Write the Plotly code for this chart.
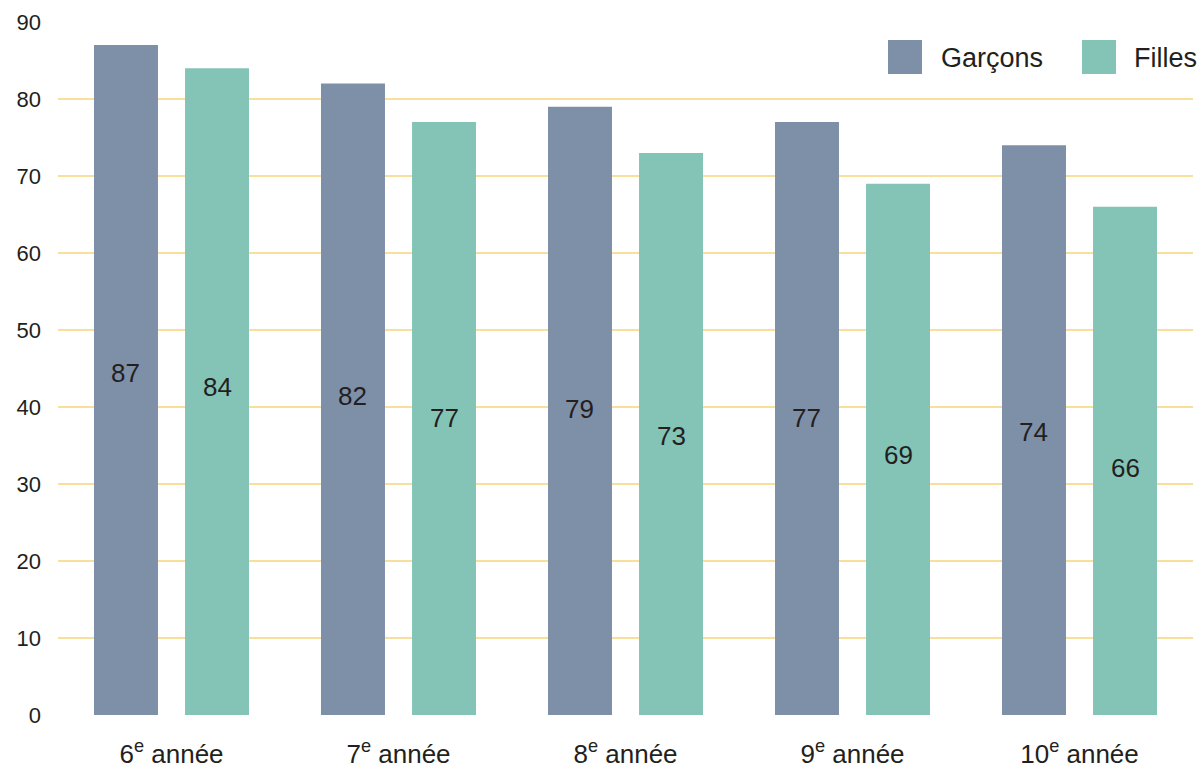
import plotly.graph_objects as go

# Share of students per grade, by gender
grades = ["6<sup>e</sup> année", "7<sup>e</sup> année", "8<sup>e</sup> année",
          "9<sup>e</sup> année", "10<sup>e</sup> année"]
garcons = [87, 82, 79, 77, 74]
filles = [84, 77, 73, 69, 66]
series_names = ["Garçons", "Filles"]
series_colors = ["#7E8FA8", "#84C4B6"]
y_ticks = [0, 10, 20, 30, 40, 50, 60, 70, 80, 90]

FONT = "Liberation Sans, Arial, Helvetica, sans-serif"
TEXT = "#231F20"

# plot-area geometry (pixels)
W, H = 1201, 770
L, R, T, B = 58, 8, 22, 55
PLOT_W = W - L - R
PLOT_H = H - T - B
BARGAP, GROUPGAP = 0.198, 0.297
slot_px = PLOT_W / len(grades) * (1 - BARGAP) / 2

fig = go.Figure()
for i, (name, vals, color) in enumerate(zip(series_names, [garcons, filles], series_colors)):
    fig.add_trace(go.Bar(
        x=grades, y=vals, name=name,
        marker=dict(color=color, line=dict(width=0)),
        showlegend=False,
        hoverinfo="x+y+name",
    ))
    # value labels, placed in the lower-middle part of each bar
    shift = (i - 0.5) * slot_px
    for g, v in zip(grades, vals):
        fig.add_annotation(
            x=g, y=0.59 * v - 6.9, xref="x", yref="y", xshift=shift,
            text=str(v), showarrow=False, xanchor="center", yanchor="middle",
            font=dict(family=FONT, size=26, color=TEXT),
        )

# Legend drawn as swatches + labels in the top-right corner
def px_x(p):
    return (p - L) / PLOT_W

def px_y(p):
    return (H - B - p) / PLOT_H

legend_items = [(series_names[0], series_colors[0], 888, 940),
                (series_names[1], series_colors[1], 1082, 1133)]
for name, color, sx, tx in legend_items:
    fig.add_shape(type="rect", xref="paper", yref="paper",
                  x0=px_x(sx), x1=px_x(sx + 34), y0=px_y(74), y1=px_y(40),
                  fillcolor=color, line=dict(width=0), layer="above")
    fig.add_annotation(xref="paper", yref="paper",
                       x=px_x(tx - 1), y=px_y(58),
                       xanchor="left", yanchor="middle", showarrow=False,
                       text=name, font=dict(family=FONT, size=27, color=TEXT))

fig.update_layout(
    width=W, height=H,
    margin=dict(l=L, r=R, t=T, b=B),
    paper_bgcolor="white", plot_bgcolor="white",
    barmode="group", bargap=BARGAP, bargroupgap=GROUPGAP,
    font=dict(family=FONT, color=TEXT),
)
fig.update_yaxes(
    range=[0, 90], tickvals=y_ticks, showgrid=True, automargin=False,
    gridcolor="#F9DF9C", gridwidth=1.5, zeroline=False, showline=False,
    tickfont=dict(family=FONT, size=22, color=TEXT),
    ticks="", ticklabelstandoff=16,
)
fig.update_xaxes(
    showgrid=False, showline=False, zeroline=False, ticks="", automargin=False,
    tickfont=dict(family=FONT, size=26, color=TEXT),
    ticklabelstandoff=21,
)

fig.write_html("out.html")
